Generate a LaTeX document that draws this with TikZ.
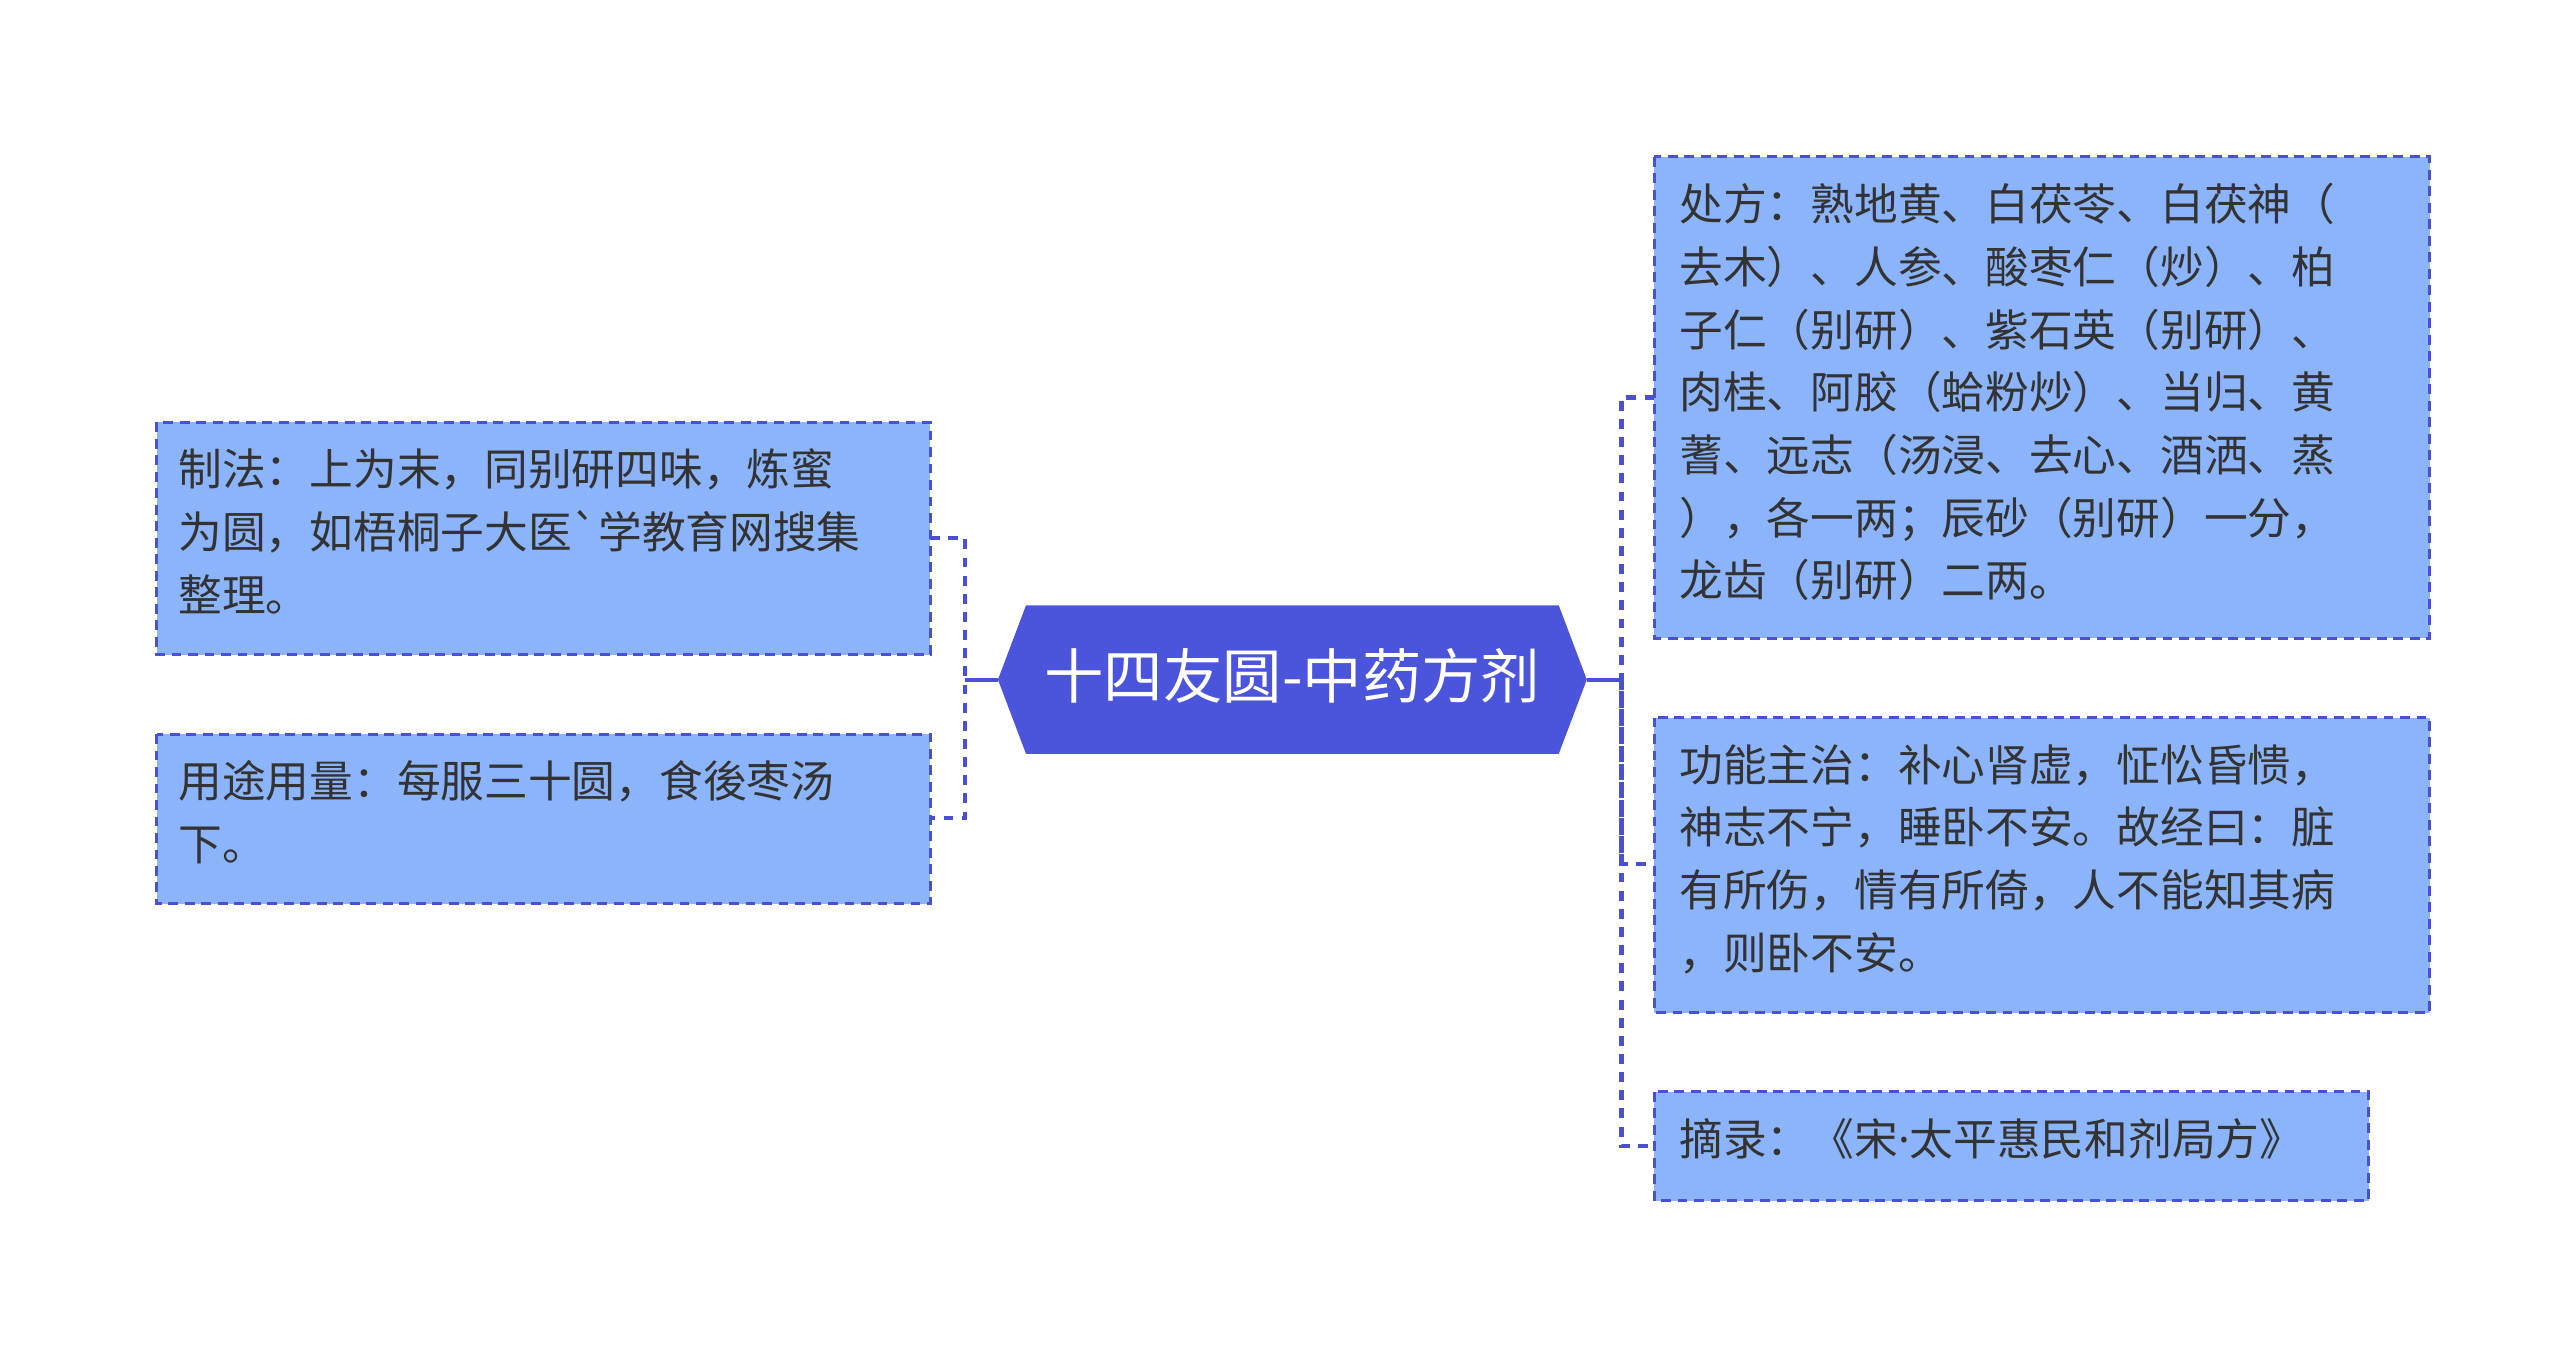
\documentclass[tikz,border=0pt]{standalone}
\usepackage{fontspec}
\newfontfamily\cjk{Noto Sans CJK SC}
\newfontfamily\latn{Noto Sans}
\definecolor{boxfill}{HTML}{8CB4FA}
\definecolor{edge}{HTML}{4A4FD4}
\definecolor{central}{HTML}{4B55DB}
\begin{document}
\begin{tikzpicture}[x=1pt,y=-1pt,
  leaf/.style={draw=edge,fill=boxfill,dashed,dash pattern=on 6pt off 4pt,line width=1.8pt,anchor=north west,inner sep=0pt},
  txt/.style={anchor=north west,align=left,inner sep=0pt,font=\cjk\fontsize{26.5}{38}\selectfont,text=black!80},
  conn/.style={draw=edge,line width=2.5pt,dash pattern=on 6pt off 5pt}]
\useasboundingbox (0,0) rectangle (1552,815);
% centre
\fill[central] (605,412) -- (622,367) -- (945,367) -- (962,412) -- (945,457) -- (622,457) -- cycle;
\node[text=white,font=\cjk\fontsize{36}{40}\selectfont] (c) at (783.5,410) {十四友圆-中药方剂};
\coordinate (cl) at (605,412); \coordinate (cr) at (962,412);
% left boxes
\path[leaf] (95,256) rectangle (564,397);
\node[txt] (l1) at (108,272) {制法：上为末，同别研四味，炼蜜\\为圆，如梧桐子大医`学教育网搜集\\整理。};
\path[leaf] (95,445) rectangle (564,548);
\node[txt] (l2) at (108,461) {用途用量：每服三十圆，食後枣汤\\下。};
% right boxes
\path[leaf] (1003,95) rectangle (1473,387);
\node[txt] (r1) at (1018,111) {处方：熟地黄、白茯苓、白茯神（\\去木）、人参、酸枣仁（炒）、柏\\子仁（别研）、紫石英（别研）、\\肉桂、阿胶（蛤粉炒）、当归、黄\\蓍、远志（汤浸、去心、酒洒、蒸\\），各一两；辰砂（别研）一分，\\龙齿（别研）二两。};
\path[leaf] (1003,435) rectangle (1473,614);
\node[txt] (r2) at (1018,451) {功能主治：补心肾虚，怔忪昏愦，\\神志不宁，睡卧不安。故经曰：脏\\有所伤，情有所倚，人不能知其病\\，则卧不安。};
\path[leaf] (1003,662) rectangle (1436,728);
\node[txt] (r3) at (1018,678) {摘录：《宋{\latn·}太平惠民和剂局方》};
% connectors
\coordinate (lj) at (585,412); \coordinate (rj) at (983,412);
\draw[edge,line width=2.5pt] (cl) -- (lj);
\draw[edge,line width=2.5pt] (cr) -- (rj);
\draw[conn] (564,326) -| (lj) |- (564,496);
\draw[conn] (1003,241) -| (rj) |- (1003,695);
\draw[conn] (rj) |- (1003,524);
\end{tikzpicture}
\end{document}
